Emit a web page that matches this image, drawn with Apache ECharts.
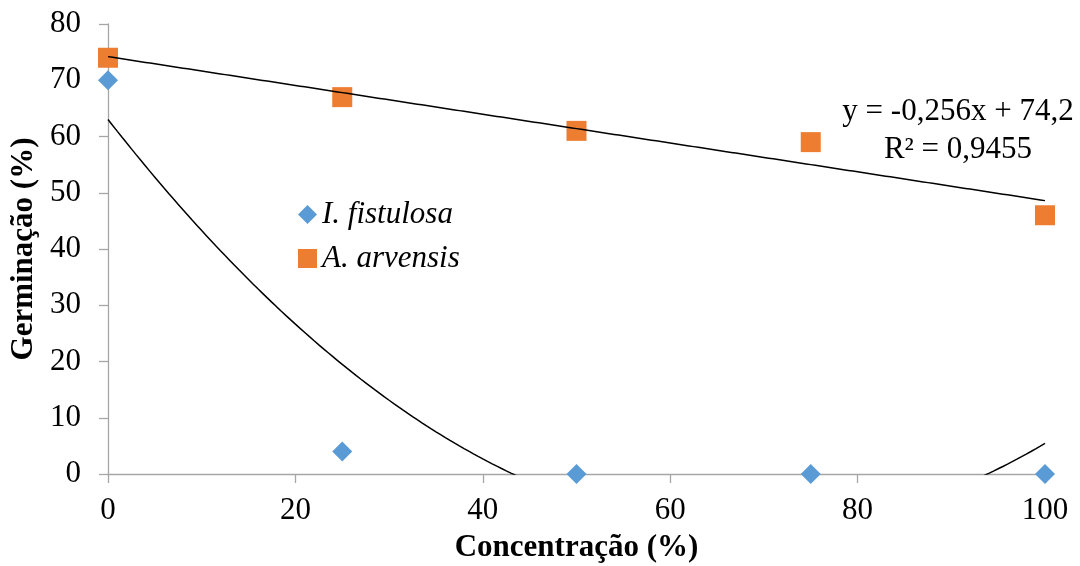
<!DOCTYPE html>
<html>
<head>
<meta charset="utf-8">
<script src="https://cdn.jsdelivr.net/npm/echarts@6/dist/echarts.min.js"></script>
<style>
    html, body { margin: 0; padding: 0; background: #fff; }
    #chart { width: 1080px; height: 566px; }
</style>
</head>
<body>
<div id="chart"></div>
<script>
// concentração do extrato (%)
const concentracao = [0, 25, 50, 75, 100]
// germinação (%) por espécie
const fistulosa = [70, 4, 0, 0, 0]
const arvensis = [74, 67, 61, 59, 46]
const xTicks = [0, 20, 40, 60, 80, 100]
const yTicks = [0, 10, 20, 30, 40, 50, 60, 70, 80]
const equacao = ['y = -0,256x + 74,2', 'R² = 0,9455']

// ajuste por minimos quadrados (grau n), igual a linha de tendencia do Excel
function polyFit(xs, ys, grau) {
    const m = grau + 1
    const A = []
    for (let i = 0; i < m; i++) {
        A.push([])
        for (let j = 0; j < m; j++) {
            A[i].push(xs.reduce((s, x) => s + Math.pow(x, i + j), 0))
        }
        A[i].push(xs.reduce((s, x, k) => s + Math.pow(x, i) * ys[k], 0))
    }
    for (let c = 0; c < m; c++) {
        for (let r = c + 1; r < m; r++) {
            const f = A[r][c] / A[c][c]
            for (let k = c; k <= m; k++) A[r][k] -= f * A[c][k]
        }
    }
    const coef = new Array(m).fill(0)
    for (let r = m - 1; r >= 0; r--) {
        let s = A[r][m]
        for (let k = r + 1; k < m; k++) s -= A[r][k] * coef[k]
        coef[r] = s / A[r][r]
    }
    return coef
}

function curva(coef) {
    const pts = []
    for (let x = 0; x <= 100; x += 0.5) {
        pts.push([x, coef.reduce((s, c, i) => s + c * Math.pow(x, i), 0)])
    }
    return pts
}

const tendFistulosa = curva(polyFit(concentracao, fistulosa, 2))
const tendArvensis = curva(polyFit(concentracao, arvensis, 1))

const fonte = 'Liberation Serif, Times New Roman, serif'
const cinza = '#a6a6a6'

const chart = echarts.init(document.getElementById('chart'))
chart.setOption({
    animation: false,
    textStyle: { fontFamily: fonte },
    grid: { left: 108, right: 35, top: 24, bottom: 92, outerBoundsMode: 'none', containLabel: false },
    legend: {
        orient: 'vertical',
        left: 293,
        top: 194,
        itemWidth: 19,
        itemHeight: 19,
        itemGap: 13,
        data: ['I. fistulosa', 'A. arvensis'],
        textStyle: { fontFamily: fonte, fontSize: 31, fontStyle: 'italic', color: '#000' }
    },
    xAxis: {
        type: 'value',
        min: xTicks[0],
        max: xTicks[xTicks.length - 1],
        interval: 20,
        name: 'Concentração (%)',
        nameLocation: 'middle',
        nameGap: 58,
        nameTextStyle: { fontFamily: fonte, fontSize: 31, fontWeight: 'bold', color: '#000' },
        axisLine: { lineStyle: { color: cinza, width: 1.3 } },
        axisTick: { length: 9, lineStyle: { color: cinza, width: 1.3 } },
        axisLabel: { margin: 21, fontSize: 31, color: '#000', fontFamily: fonte },
        splitLine: { show: false }
    },
    yAxis: {
        type: 'value',
        min: yTicks[0],
        max: yTicks[yTicks.length - 1],
        interval: 10,
        name: 'Germinação (%)',
        nameLocation: 'middle',
        nameGap: 63,
        nameTextStyle: { fontFamily: fonte, fontSize: 31, fontWeight: 'bold', color: '#000' },
        axisLine: { show: true, lineStyle: { color: cinza, width: 1.3 } },
        axisTick: { show: true, length: 9, lineStyle: { color: cinza, width: 1.3 } },
        axisLabel: { margin: 27, fontSize: 31, color: '#000', fontFamily: fonte },
        splitLine: { show: false }
    },
    graphic: [
        {
            type: 'text',
            x: 958,
            y: 112,
            style: { text: equacao[0], font: '31px ' + fonte, fill: '#000', align: 'center', verticalAlign: 'middle' }
        },
        {
            type: 'text',
            x: 958,
            y: 150,
            style: { text: equacao[1], font: '31px ' + fonte, fill: '#000', align: 'center', verticalAlign: 'middle' }
        }
    ],
    series: [
        {
            type: 'line',
            data: tendFistulosa,
            showSymbol: false,
            clip: true,
            silent: true,
            lineStyle: { color: '#000', width: 1.5 },
            z: 2
        },
        {
            type: 'line',
            data: tendArvensis,
            showSymbol: false,
            clip: true,
            silent: true,
            lineStyle: { color: '#000', width: 1.5 },
            z: 2
        },
        {
            name: 'I. fistulosa',
            type: 'scatter',
            symbol: 'diamond',
            symbolSize: 20,
            clip: false,
            itemStyle: { color: '#5b9bd5', opacity: 1 },
            data: concentracao.map((x, i) => [x, fistulosa[i]]),
            z: 3
        },
        {
            name: 'A. arvensis',
            type: 'scatter',
            symbol: 'rect',
            symbolSize: 20,
            clip: false,
            itemStyle: { color: '#ed7d31', opacity: 1 },
            data: concentracao.map((x, i) => [x, arvensis[i]]),
            z: 1
        }
    ]
})
</script>
</body>
</html>
